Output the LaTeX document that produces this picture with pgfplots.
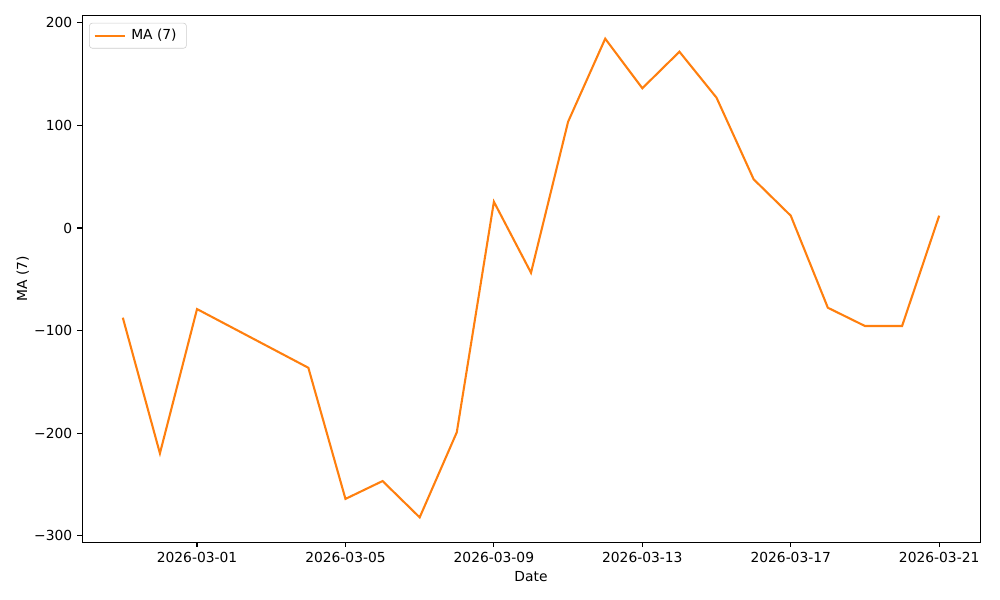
\documentclass[border=0pt]{standalone}
\usepackage{pgfplots}
\pgfplotsset{compat=1.18}
\usepackage{fontspec}
\setmainfont{DejaVu Sans}
\definecolor{taborange}{HTML}{FF7F0E}

\begin{document}
\begin{tikzpicture}
\path[use as bounding box] (-59.04bp,-41.76bp) rectangle (660.96bp,390.24bp);
\begin{axis}[
    scale only axis,
    width=646.56bp, height=379.44bp,
    xmin=-3.1, xmax=21.1,
    ymin=-306, ymax=207.6,
    xtick={0,4,8,12,16,20},
    xticklabels={2026-03-01,2026-03-05,2026-03-09,2026-03-13,2026-03-17,2026-03-21},
    ytick={-300,-200,-100,0,100,200},
    yticklabels={−300,−200,−100,0,100,200},
    tick align=outside,
    major tick length=3.5bp,
    xtick pos=bottom, ytick pos=left,
    tick style={black, line width=0.8bp},
    axis line style={line width=0.7bp},
    ticklabel style={font=\fontsize{10}{12}\selectfont},
    xlabel={Date}, ylabel={MA (7)},
    label style={font=\fontsize{10}{12}\selectfont},
    xlabel style={yshift=0bp},
    ylabel style={yshift=-3bp},
    legend style={font=\fontsize{10}{12}\selectfont, draw=black!20, rounded corners=2bp,
        inner xsep=3bp, inner ysep=2.5bp, at={(0.008,0.985)}, anchor=north west,
        nodes={inner xsep=4bp}},
    legend image code/.code={\draw[#1] (0bp,0bp) -- (21.6bp,0bp);},
    legend cell align=left,
]
\addplot[taborange, line width=1.5bp] coordinates {
    (-2,-87.4) (-1,-219.6) (0,-79) (3,-136.2) (4,-264) (5,-246.6) (6,-282)
    (7,-199.1) (8,25.6) (9,-43.6) (10,103.6) (11,184.5) (12,136.2) (13,171.8)
    (14,127) (15,47.5) (16,12) (17,-77.7) (18,-95.5) (19,-95.5) (20,12)
};
\addlegendentry{MA (7)}
\end{axis}
\end{tikzpicture}
\end{document}
